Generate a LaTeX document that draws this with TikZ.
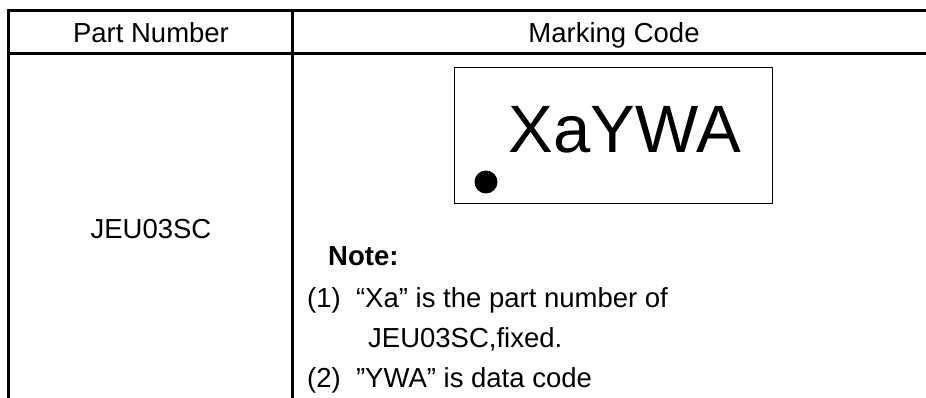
\documentclass[tikz,border=0pt]{standalone}
\usepackage{fontspec}
\setmainfont{Liberation Sans}
\usepackage{tikz}
\tikzstyle{grid} = [line width=3pt, line cap=rect]
\tikzstyle{cell} = [inner sep=0pt, anchor=base, font=\fontsize{27.5}{33}\selectfont]
\tikzstyle{notes} = [inner sep=0pt, anchor=base west, font=\fontsize{27.5}{33}\selectfont]
\tikzstyle{markbox} = [rectangle, draw=black, line width=1pt, minimum width=318pt, minimum height=136pt, inner sep=0pt]

\begin{document}
\begin{tikzpicture}[x=1pt, y=-1pt]
        \useasboundingbox (0,0) rectangle (926,398);
        % table
        \draw [grid] (940,11) -- (8,11) -- (8,410);
        \draw [grid] (8,54) -- (940,54);
        \draw [grid] (292,11) -- (292,410);
        \node (partnum) [cell] at (151,43) {Part Number};
        \node (markcode) [cell] at (614,43) {Marking Code};
        \node (part) [cell] at (151,238) {JEU03SC};
        % marking
        \node (marking) [markbox] at (613,136) {};
        \node (code) [inner sep=0pt, anchor=base, font=\fontsize{67}{72}\selectfont] at (625,153) {XaYWA};
        \node (pin) [circle, fill=black, minimum size=23pt, inner sep=0pt] at (486,182) {};
        % notes
        \node (note) [notes, font=\fontsize{27.5}{33}\selectfont\bfseries] at (328,265) {Note:};
        \node (noteA) [notes] at (307,307) {(1) \ “Xa” is the part number of};
        \node (noteB) [notes] at (368,347) {JEU03SC,fixed.};
        \node (noteC) [notes] at (307,387) {(2) \ ”YWA” is data code};
    \end{tikzpicture}
\end{document}
